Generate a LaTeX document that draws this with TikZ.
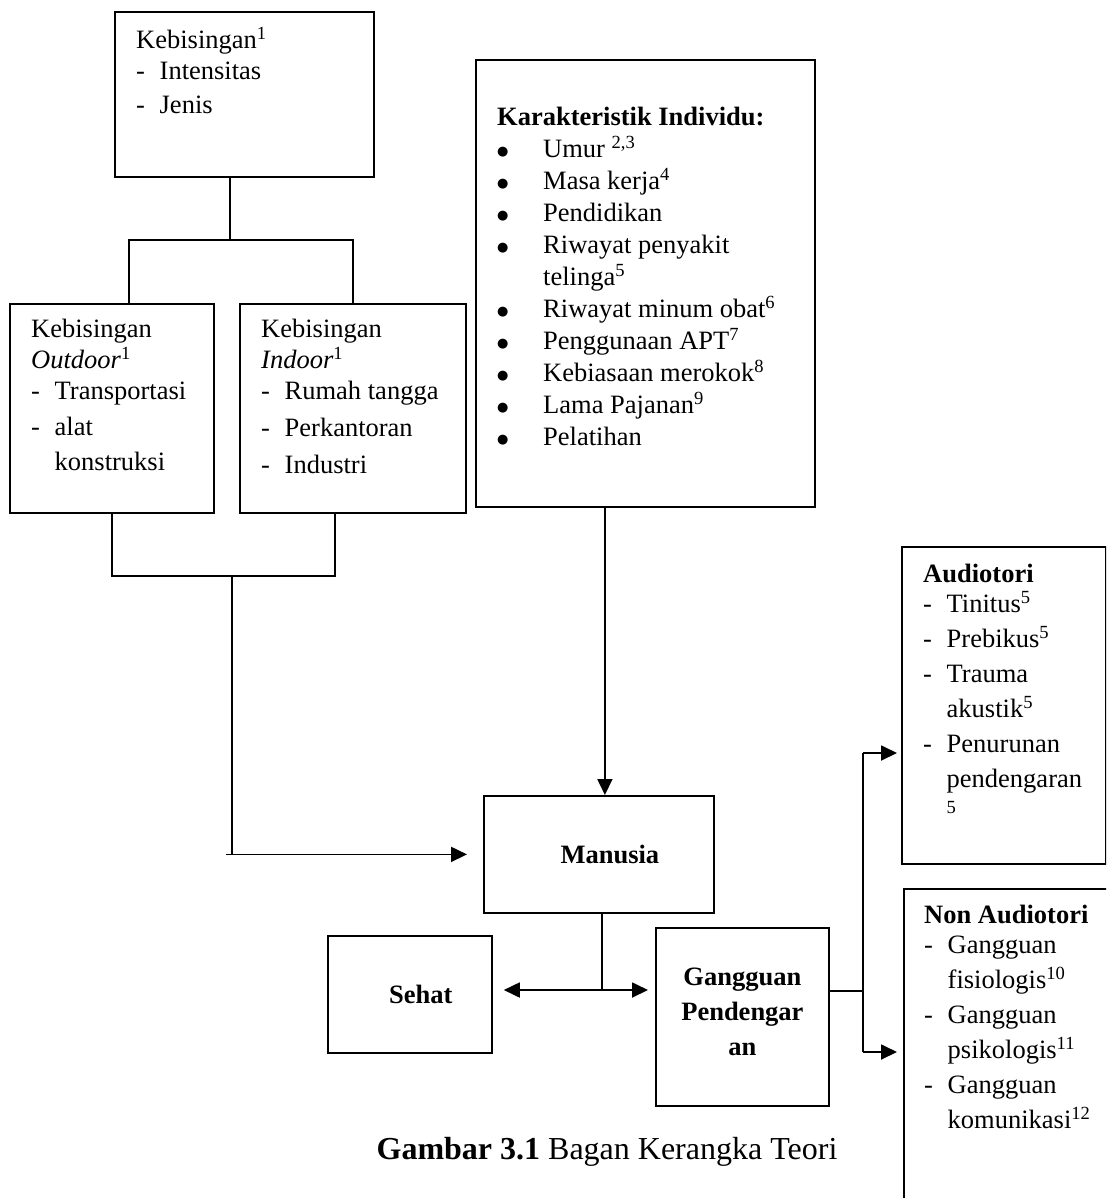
\documentclass[tikz,border=0pt]{standalone}
\usepackage{fontspec}
\setmainfont{Liberation Serif}
\newfontfamily\symfont{DejaVu Sans}
\usetikzlibrary{arrows.meta}

\newcommand{\dashitem}{\makebox[23.5pt][l]{-}}
\newcommand{\dashgap}{\hspace*{23.5pt}}
\newcommand{\bulitem}{\makebox[46pt][l]{\raisebox{2pt}{\symfont\fontsize{13}{13}\selectfont ●}}}
\newcommand{\bulgap}{\hspace*{46pt}}
\newcommand{\firstline}{\rule{0pt}{18pt}}

\begin{document}
\begin{tikzpicture}[x=1pt, y=-1pt,
    box/.style={draw, rectangle, line width=1.8pt, anchor=north west, inner sep=0pt},
    txt/.style={anchor=north west, inner sep=0pt, align=left, font=\fontsize{26.5}{31}\selectfont},
    bold/.style={inner sep=0pt, align=center, font=\bfseries\fontsize{26.5}{35}\selectfont},
    link/.style={line width=1.8pt},
    arr/.style={-{Triangle[length=16pt, width=15pt]}, line width=1.8pt}]

    % Page frame
    \useasboundingbox (0,0) rectangle (1106,1198);
    \clip (0,0) rectangle (1106,1198);

    % Draw boxes
    \node [box, minimum width=259pt, minimum height=165pt] (keb) at (114,11) {};
    \node [box, minimum width=204pt, minimum height=209pt] (outdoor) at (9,303) {};
    \node [box, minimum width=226pt, minimum height=209pt] (indoor) at (239,303) {};
    \node [box, minimum width=339pt, minimum height=447pt] (karak) at (475,59) {};
    \node [box, minimum width=230pt, minimum height=117pt] (man) at (483,795) {};
    \node [box, minimum width=164pt, minimum height=117pt] (sehat) at (327,935) {};
    \node [box, minimum width=173pt, minimum height=178pt] (gang) at (655,927) {};
    \node [box, minimum width=204pt, minimum height=317pt] (audio) at (901,546) {};
    \node [box, minimum width=215pt, minimum height=330pt] (nonaudio) at (903,888) {};

    % Box texts
    \node [txt] (lkeb) at (136,27) {\firstline Kebisingan\textsuperscript{1}\\
        \dashitem Intensitas\\[3pt]
        \dashitem Jenis};
    \node [txt] (loutdoor) at (31,319) {\firstline Kebisingan\\
        \textit{Outdoor}\textsuperscript{1}\\
        \dashitem Transportasi\\[5pt]
        \dashitem alat\\[4pt]
        \dashgap konstruksi};
    \node [txt] (lindoor) at (261,319) {\firstline Kebisingan\\
        \textit{Indoor}\textsuperscript{1}\\
        \dashitem Rumah tangga\\[6pt]
        \dashitem Perkantoran\\[6pt]
        \dashitem Industri};
    \node [txt, font=\fontsize{26.5}{32}\selectfont] (lkarak) at (497,107) {\firstline\textbf{Karakteristik Individu:}\\
        \bulitem Umur \textsuperscript{2,3}\\
        \bulitem Masa kerja\textsuperscript{4}\\
        \bulitem Pendidikan\\
        \bulitem Riwayat penyakit\\
        \bulgap telinga\textsuperscript{5}\\
        \bulitem Riwayat minum obat\textsuperscript{6}\\
        \bulitem Penggunaan APT\textsuperscript{7}\\
        \bulitem Kebiasaan merokok\textsuperscript{8}\\
        \bulitem Lama Pajanan\textsuperscript{9}\\
        \bulitem Pelatihan};
    \node [txt, font=\fontsize{26.5}{35}\selectfont] (laudio) at (923,564) {\firstline\textbf{Audiotori}\\[-5pt]
        \dashitem Tinitus\textsuperscript{5}\\
        \dashitem Prebikus\textsuperscript{5}\\
        \dashitem Trauma\\
        \dashgap akustik\textsuperscript{5}\\
        \dashitem Penurunan\\
        \dashgap pendengaran\\
        \dashgap\textsuperscript{5}};
    \node [txt, font=\fontsize{26.5}{35}\selectfont] (lnonaudio) at (924,905) {\firstline\textbf{Non Audiotori}\\[-5pt]
        \dashitem Gangguan\\
        \dashgap fisiologis\textsuperscript{10}\\
        \dashitem Gangguan\\
        \dashgap psikologis\textsuperscript{11}\\
        \dashitem Gangguan\\
        \dashgap komunikasi\textsuperscript{12}};
    \node [bold] (lman) at ([xshift=11pt]man.center) {Manusia};
    \node [bold] (lsehat) at ([xshift=11pt]sehat.center) {Sehat};
    \node [bold] (lgang) at ([yshift=5pt]gang.center) {Gangguan\\ Pendengar\\ an};

    % Caption
    \node [font=\fontsize{32}{38}\selectfont] (caption) at (607,1152) {\textbf{Gambar 3.1} Bagan Kerangka Teori};

    % Noise sources
    \coordinate (jtop) at (230,240);
    \coordinate (jbot) at (232,576);
    \draw [link] (jtop |- keb.south) -- (jtop);
    \draw [link] ([xshift=17pt]outdoor.north) |- (indoor.north |- jtop) -- (indoor.north);
    \draw [link] (outdoor.south) |- (jbot) -| ([xshift=-18pt]indoor.south);
    \draw [link] (jbot) -- (jbot |- man.west);
    \draw [arr, shorten >=16pt] ([xshift=-6pt]jbot |- man.west) -- (man.west);

    % Individual factors
    \draw [arr] ([xshift=6pt]man.north |- karak.south) -- ([xshift=6pt]man.north);

    % Outcome
    \coordinate (jmid) at (602,990);
    \draw [link] (man.south -| jmid) -- (jmid);
    \draw [arr, shorten >=11pt] (jmid) -- (jmid -| sehat.east);
    \draw [arr, shorten >=7pt] (jmid) -- (jmid -| gang.west);

    % Effects
    \coordinate (jright) at (863,991);
    \coordinate (ja) at (863,753);
    \coordinate (jn) at (863,1052);
    \draw [link] (gang.east |- jright) -- (jright);
    \draw [link] (ja) -- (jn);
    \draw [arr, shorten >=4pt] (ja) -- (ja -| audio.west);
    \draw [arr, shorten >=6pt] (jn) -- (jn -| nonaudio.west);

\end{tikzpicture}
\end{document}
